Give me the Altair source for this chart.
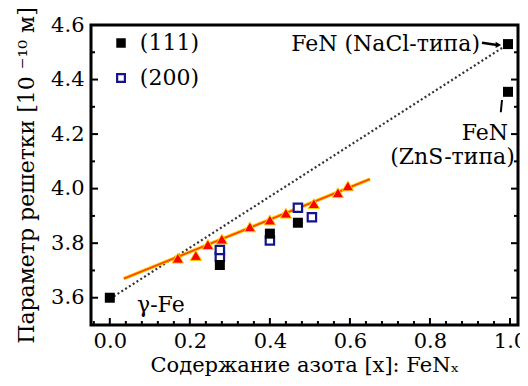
import altair as alt
import pandas as pd

# --- data ---
x111 = [0.0, 0.275, 0.40, 0.47, 0.995, 0.995]
y111 = [3.60, 3.72, 3.835, 3.875, 4.53, 4.355]

x200 = [0.275, 0.275, 0.40, 0.47, 0.505]
y200 = [3.75, 3.775, 3.81, 3.93, 3.895]

xtri = [0.17, 0.215, 0.245, 0.28, 0.35, 0.40, 0.44, 0.51, 0.57, 0.595]
ytri = [3.745, 3.755, 3.795, 3.815, 3.86, 3.885, 3.91, 3.945, 3.985, 4.01]

xfit = [0.035, 0.65]
yfit = [3.67, 4.035]

xveg = [0.01, 0.99]
yveg = [3.605, 4.525]

y_major = [3.6, 3.8, 4.0, 4.2, 4.4, 4.6]
y_minor = [3.5, 3.7, 3.9, 4.1, 4.3, 4.5]
x_major = [0.0, 0.2, 0.4, 0.6, 0.8, 1.0]
x_minor = [0.04, 0.08, 0.12, 0.16, 0.24, 0.28, 0.32, 0.36, 0.44, 0.48, 0.52, 0.56,
           0.64, 0.68, 0.72, 0.76, 0.84, 0.88, 0.92, 0.96, -0.04]

W, H = 427, 300
XD = [-0.047, 1.02]
YD = [3.5, 4.6]
FONT = "DejaVu Serif"

xs = alt.Scale(domain=XD, nice=False, zero=False)
ys = alt.Scale(domain=YD, nice=False, zero=False)

xaxis = alt.Axis(values=x_major, format=".1f", ticks=False, domain=False, grid=False,
                 labelFont=FONT, labelFontSize=21, labelColor="black", labelPadding=5,
                 title="Содержание азота [x]: FeNₓ", titleFont=FONT, titleFontSize=21,
                 titleFontWeight="normal", titleColor="black", titlePadding=3)
yaxis = alt.Axis(values=y_major, format=".1f", ticks=False, domain=False, grid=False,
                 labelFont=FONT, labelFontSize=21, labelColor="black", labelPadding=7,
                 title="Параметр решетки [10 ⁻¹⁰ м]", titleFont=FONT, titleFontSize=22,
                 titleFontWeight="normal", titleColor="black", titlePadding=12)

def X(field="x"):
    return alt.X(f"{field}:Q", scale=xs, axis=xaxis)

def Y(field="y"):
    return alt.Y(f"{field}:Q", scale=ys, axis=yaxis)

veg = alt.Chart(pd.DataFrame({"x": xveg, "y": yveg})).mark_line(
    color="#333333", strokeDash=[2, 2.5], strokeWidth=2.2
).encode(x=X(), y=Y())

fit = alt.Chart(pd.DataFrame({"x": xfit, "y": yfit})).mark_line(
    color="#ffd000", strokeWidth=3.5
).encode(x=X(), y=Y())
fit2 = alt.Chart(pd.DataFrame({"x": xfit, "y": yfit})).mark_line(
    color="#ff4a00", strokeWidth=1.8
).encode(x=X(), y=Y())

tri = alt.Chart(pd.DataFrame({"x": xtri, "y": ytri})).mark_point(
    shape="triangle-up", filled=True, fill="#ff0000", stroke="#ffd000", strokeWidth=1,
    size=130, opacity=1
).encode(x=X(), y=Y())

p200 = alt.Chart(pd.DataFrame({"x": x200, "y": y200})).mark_point(
    shape="square", filled=False, fill="white", stroke="#14148c", strokeWidth=2.2,
    size=70, opacity=1, fillOpacity=1
).encode(x=X(), y=Y())

p111 = alt.Chart(pd.DataFrame({"x": x111, "y": y111})).mark_point(
    shape="square", filled=True, color="black", size=100, opacity=1
).encode(x=X(), y=Y())

# legend (manual)
leg_sym_x = [0.028]
leg_y = [4.534, 4.406]
leg_text = ["(111)", "(200)"]
leg1 = alt.Chart(pd.DataFrame({"x": leg_sym_x, "y": [leg_y[0]]})).mark_point(
    shape="square", filled=True, color="black", size=90, opacity=1).encode(x=X(), y=Y())
leg2 = alt.Chart(pd.DataFrame({"x": leg_sym_x, "y": [leg_y[1]]})).mark_point(
    shape="square", filled=False, fill="white", stroke="#14148c", strokeWidth=2.2,
    size=60, opacity=1, fillOpacity=1).encode(x=X(), y=Y())
legt = alt.Chart(pd.DataFrame({"x": [0.075] * 2, "y": leg_y, "t": leg_text})).mark_text(
    align="left", baseline="middle", font=FONT, fontSize=22, color="black"
).encode(x=X(), y=Y(), text="t:N")

# annotations
ann_x = [0.925, 0.995, 1.012, 0.068]
ann_y = [4.53, 4.203, 4.115, 3.573]
ann_t = ["FeN (NaCl-типа)", "FeN", "(ZnS-типа)", "γ-Fe"]
ann_al = ["right", "right", "right", "left"]
ann = alt.Chart(pd.DataFrame({"x": ann_x, "y": ann_y, "t": ann_t, "a": ann_al}))
ann_r = ann.transform_filter(alt.datum.a == "right").mark_text(
    align="right", baseline="middle", font=FONT, fontSize=22, color="black"
).encode(x=X(), y=Y(), text="t:N")
ann_l = ann.transform_filter(alt.datum.a == "left").mark_text(
    align="left", baseline="middle", font=FONT, fontSize=22, color="black"
).encode(x=X(), y=Y(), text="t:N")

arrow_x = [0.93, 0.968]
arrow_y = [4.535, 4.527]
arrow = alt.Chart(pd.DataFrame({"x": arrow_x, "y": arrow_y})).mark_line(
    color="black", strokeWidth=2.5).encode(x=X(), y=Y())
head = alt.Chart(pd.DataFrame({"x": [0.971], "y": [4.527]})).mark_point(
    shape="triangle-right", filled=True, color="black", size=40, opacity=1
).encode(x=X(), y=Y())

lead_x = [0.98, 0.977]
lead_y = [4.325, 4.28]
lead = alt.Chart(pd.DataFrame({"x": lead_x, "y": lead_y})).mark_line(
    color="black", strokeWidth=2).encode(x=X(), y=Y())

# inner ticks
def yticks(vals, length, right=False):
    d = pd.DataFrame({"y": vals})
    if right:
        return alt.Chart(d).mark_rule(color="black", strokeWidth=2).encode(
            y=Y(), x=alt.value(W - length), x2=alt.value(W))
    return alt.Chart(d).mark_rule(color="black", strokeWidth=2).encode(
        y=Y(), x=alt.value(0), x2=alt.value(length))

def xticks(vals, length):
    d = pd.DataFrame({"x": vals})
    return alt.Chart(d).mark_rule(color="black", strokeWidth=2).encode(
        x=X(), y=alt.value(H - length), y2=alt.value(H))

ticks = [yticks(y_major, 7), yticks(y_minor, 4), yticks(y_major, 7, True),
         yticks(y_minor, 4, True), xticks(x_major, 7), xticks(x_minor, 4)]

chart = alt.layer(
    veg, fit, fit2, tri, p200, p111, leg1, leg2, legt, ann_r, ann_l,
    arrow, head, lead, *ticks
).properties(
    width=W, height=H, autosize="none", background="white",
    padding={"left": 83, "top": 17, "right": 2, "bottom": 53},
).configure_view(stroke="black", strokeWidth=3)

chart.save("out.html", embed_options={"renderer": "svg", "actions": False})
